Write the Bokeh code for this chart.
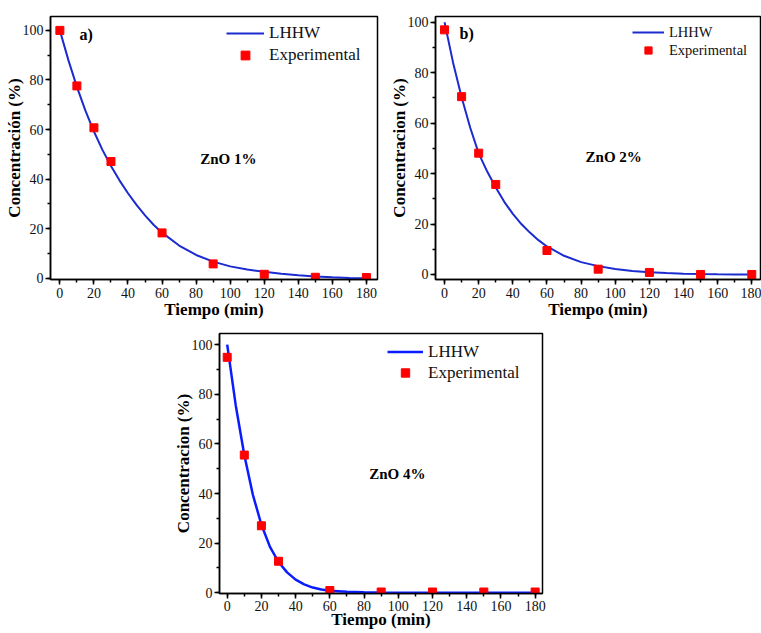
from bokeh.plotting import figure
from bokeh.layouts import column, row
from bokeh.models import Range1d, SingleIntervalTicker, Legend, LegendItem, Label, Spacer
from bokeh.embed import file_html
from bokeh.resources import INLINE

# ---------------- data ----------------
t_exp = [0, 10, 20, 30, 60, 90, 120, 150, 180]
exp_a = [100, 77.6, 60.7, 47.1, 18.3, 5.8, 1.6, 0.4, 0.3]
exp_b = [97.0, 70.5, 48.1, 35.7, 9.5, 2.1, 0.8, 0.0, 0.0]
exp_c = [94.9, 55.5, 27.0, 12.7, 0.9, 0.3, 0.3, 0.3, 0.3]

t_fit = [0, 5, 10, 15, 20, 25, 30, 35, 40, 45, 50, 55, 60,
         70, 80, 90, 100, 110, 120, 130, 140, 150, 160, 170, 180]
fit_a = [100, 88.0, 77.2, 67.6, 59.2, 51.8, 45.3, 39.5, 34.3, 29.6, 25.4, 21.6, 18.4,
         13.2, 9.4, 6.7, 4.8, 3.5, 2.6, 1.8, 1.2, 0.75, 0.4, 0.15, 0.0]
fit_b = [100, 84.0, 70.3, 58.3, 48.0, 40.8, 34.5, 28.8, 24.0, 20.0, 16.6, 13.6, 11.1,
         7.4, 4.9, 3.3, 2.2, 1.4, 0.9, 0.55, 0.3, 0.15, 0.05, 0.0, 0.0]
fit_c = [100, 75.5, 55.5, 39.5, 27.4, 18.5, 12.4, 8.2, 5.3, 3.4, 2.1, 1.3, 0.8,
         0.4, 0.2, 0.1, 0.05, 0.0, 0.0, 0.0, 0.0, 0.0, 0.0, 0.0, 0.0]

x_label = "Tiempo (min)"
y_label_a = "Concentración (%)"
y_label_bc = "Concentracion (%)"
series_names = ["LHHW", "Experimental"]

SERIF = "Liberation Serif"


def panel(width, height, bl, br, bt, bb, xr, yr, t_f, f, t_e, e, ylabel,
          tag, tag_xy, zn, zn_xy, leg_loc, leg_font, glyph_w, row_h,
          line_color, line_w, xl_standoff=3, xa_standoff=-1):
    p = figure(width=width, height=height, output_backend="svg",
               toolbar_location=None, x_range=Range1d(*xr), y_range=Range1d(*yr),
               min_border_left=bl, min_border_right=br,
               min_border_top=bt, min_border_bottom=bb)
    p.xgrid.visible = False
    p.ygrid.visible = False
    p.outline_line_color = "black"
    p.outline_line_width = 1.5
    p.background_fill_color = "white"
    p.border_fill_color = "white"

    p.xaxis.ticker = SingleIntervalTicker(interval=20, num_minor_ticks=2)
    p.yaxis.ticker = SingleIntervalTicker(interval=20, num_minor_ticks=2)
    for ax in (p.xaxis[0], p.yaxis[0]):
        ax.axis_line_width = 1.5
        ax.axis_line_color = "black"
        ax.major_tick_line_color = "black"
        ax.major_tick_line_width = 1.5
        ax.minor_tick_line_color = "black"
        ax.minor_tick_line_width = 1.5
        ax.major_tick_in = 0
        ax.major_tick_out = 5
        ax.minor_tick_in = 0
        ax.minor_tick_out = 3
        ax.major_label_text_font = SERIF
        ax.major_label_text_font_size = "14px"
        ax.major_label_text_color = "#111111"
        ax.axis_label_text_font = SERIF
        ax.axis_label_text_font_style = "bold"
        ax.axis_label_text_font_size = "17px"
        ax.axis_label_text_color = "black"
    p.xaxis.axis_label = x_label
    p.yaxis.axis_label = ylabel
    p.xaxis.major_label_standoff = xl_standoff
    p.xaxis.axis_label_standoff = xa_standoff
    p.yaxis.major_label_standoff = 2
    p.yaxis.axis_label_standoff = -4

    ln = p.line(t_f, f, line_color=line_color, line_width=line_w)
    sq = p.scatter(t_e, e, marker="square", size=8, fill_color="#ff0000",
                   line_color="#ff0000")

    legend = Legend(items=[LegendItem(label=series_names[0], renderers=[ln]),
                           LegendItem(label=series_names[1], renderers=[sq])],
                    location=leg_loc, padding=0, margin=0, spacing=0,
                    border_line_color=None, background_fill_alpha=0,
                    label_text_font=SERIF, label_text_font_size=leg_font,
                    label_text_color="#111111",
                    glyph_width=glyph_w, glyph_height=row_h, label_height=row_h,
                    label_standoff=5)
    p.add_layout(legend)

    if tag:
        p.add_layout(Label(x=tag_xy[0], y=tag_xy[1], text=tag, text_font=SERIF,
                           text_font_style="bold", text_font_size="16px",
                           text_baseline="middle", text_color="black"))
    p.add_layout(Label(x=zn_xy[0], y=zn_xy[1], text=zn, text_font=SERIF,
                       text_font_style="bold", text_font_size="15px",
                       text_baseline="middle", text_color="black"))
    return p


pa = panel(385, 323, 50, 8, 15, 44, (-5.5, 186.5), (-0.5, 105.6),
           t_fit, fit_a, t_exp, exp_a, y_label_a,
           "a)", (11.5, 98.4), "ZnO 1%", (82.4, 48.3),
           (176, 213), "17px", 38, 22, "#1b2bd0", 2)

pb = panel(376, 323, 50, 1, 16, 44, (-5.3, 185.1), (-2.0, 102.3),
           t_fit, fit_b, t_exp, exp_b, y_label_bc,
           "b)", (8.8, 95.5), "ZnO 2%", (82.6, 46.4),
           (197, 220), "14.5px", 32, 18, "#1b2bd0", 2)

pc = panel(381, 310, 50, 8, 10, 40, (-4.5, 184.3), (-0.3, 104.5),
           t_fit, fit_c, t_exp, exp_c, y_label_bc,
           None, None, "ZnO 4%", (83.0, 47.9),
           (168, 210), "17px", 36, 21, "#0a1cff", 2.5,
           xl_standoff=2, xa_standoff=-4)

layout = column(row(pa, pb), row(Spacer(width=169, height=310), pc))

open("out.html", "w").write(file_html(layout, INLINE))
